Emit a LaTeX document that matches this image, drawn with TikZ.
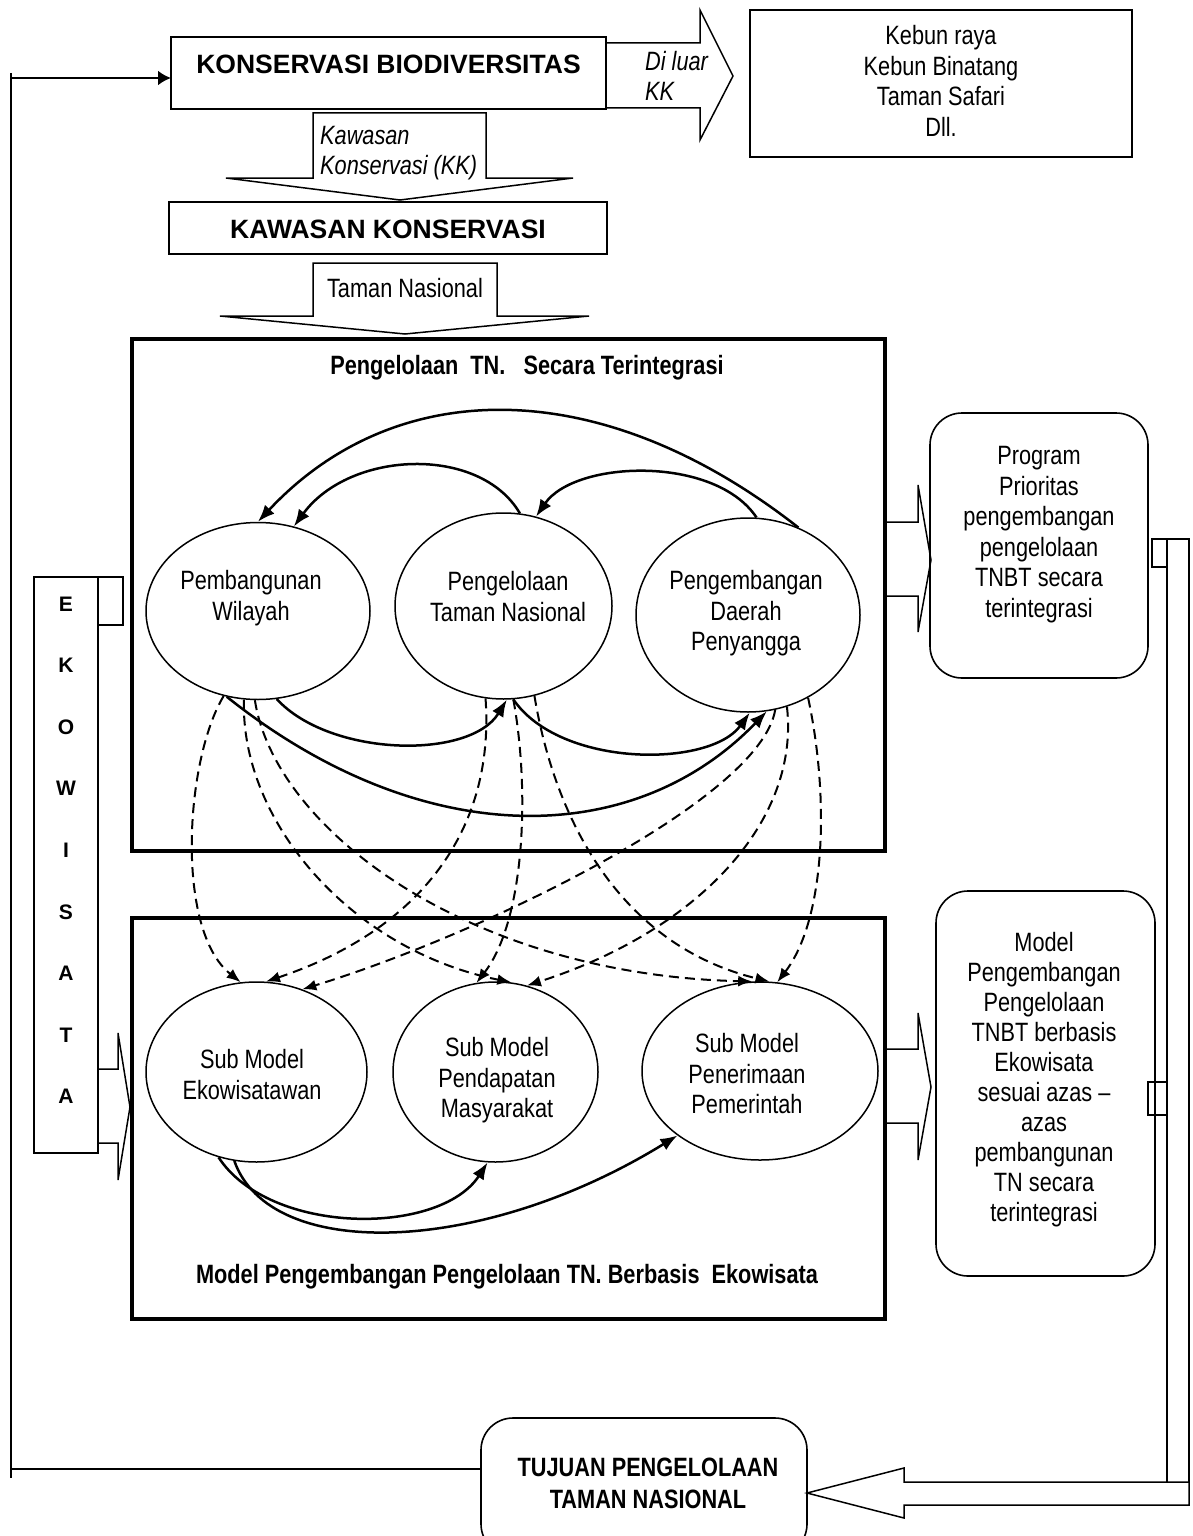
\documentclass[tikz,border=0pt]{standalone}
\usepackage{fontspec}
\setmainfont{Liberation Sans}
\newfontfamily\narrowsans{Liberation Sans}[FakeStretch=0.82]
\usetikzlibrary{arrows.meta,shapes.geometric}

\tikzset{
  plainbox/.style={draw, line width=1.6pt, inner sep=0pt, outer sep=0pt},
  roundbox/.style={plainbox, rounded corners=32pt},
  frame/.style={draw, line width=3.5pt, inner sep=0pt},
  oval/.style={draw, ellipse, line width=1.5pt, inner sep=0pt},
  hollow/.style={draw, line width=1.5pt, line join=miter},
  boldwide/.style={font=\bfseries\fontsize{26.5}{31}\selectfont},
  txtc/.style={font=\narrowsans\fontsize{26.5}{30.5}\selectfont, align=center, inner sep=0pt},
  txtl/.style={font=\narrowsans\itshape\fontsize{26.5}{30.5}\selectfont, align=left, inner sep=0pt},
  titletxt/.style={font=\narrowsans\bfseries\fontsize{26.5}{32}\selectfont, align=center, inner sep=0pt},
  link/.style={line width=2.5pt},
  arc/.style={line width=2.5pt, -{Latex[length=17pt,width=13pt]}},
  dashline/.style={line width=2pt, dash pattern=on 10pt off 6pt, -{Latex[length=14pt,width=11pt]}},
}

\begin{document}
\begin{tikzpicture}[x=1pt,y=-1pt]
\useasboundingbox (0,0) rectangle (1193,1536);
\fill[white] (0,0) rectangle (1193,1536);
\clip (0,0) rectangle (1193,1536);

% ---------- top chain ----------
\node[plainbox, boldwide, minimum width=435pt, text height=37pt, text depth=35pt, anchor=north west] (kb) at (171,37) {KONSERVASI BIODIVERSITAS};
\node[plainbox, minimum width=382pt, minimum height=147pt, anchor=north west] (kebun) at (750,10) {};
\node[txtc, anchor=north] (kebuntxt) at (941,25.3) {Kebun raya\\Kebun Binatang\\Taman Safari\\Dll.};

% outside-KK arrow
\draw[hollow] (606,43) -- (700,43) -- (700,10) -- (733,76) -- (700,140) -- (700,108) -- (606,108);
\node[txtl, anchor=north west] (diluar) at (645,51) {Di luar\\KK};

% arrow down to conservation areas
\draw[hollow] (313,113) -- (486,113) -- (486,178) -- (573,178) -- (400,200) -- (226,178) -- (313,178) -- cycle;
\node[txtl, anchor=north west] (kklabel) at (320,126) {Kawasan\\Konservasi (KK)};

\node[plainbox, boldwide, minimum width=438pt, text height=36.5pt, text depth=15.5pt, anchor=north west] (kk) at (169,202) {KAWASAN KONSERVASI};

% arrow down to national park
\draw[hollow] (313,263) -- (497,263) -- (497,316) -- (589,316) -- (405,334) -- (220,316) -- (313,316) -- cycle;
\node[txtc, anchor=base] (tnlabel) at (405,297.5) {Taman Nasional};

% ---------- frames ----------
\node[frame, minimum width=753pt, minimum height=512pt, anchor=north west] (f1) at (130,337) {};
\node[titletxt, anchor=base] (f1title) at (527,374.5) {Pengelolaan\ \ TN.\ \ \ Secara Terintegrasi};

\node[frame, minimum width=753pt, minimum height=401pt, anchor=north west] (f2) at (130,916) {};
\node[titletxt, anchor=base] (f2title) at (507,1283.5) {Model Pengembangan Pengelolaan TN. Berbasis\ \ Ekowisata};

% ---------- upper ellipses ----------
\node[oval, minimum width=224pt, minimum height=177pt] (pw) at (258,611) {};
\node[oval, minimum width=217pt, minimum height=186pt] (ptn) at (503.5,606) {};
\node[oval, minimum width=224pt, minimum height=194pt] (pdp) at (748,615) {};
\node[txtc, anchor=north] (pwtxt) at (251,570.3) {Pembangunan\\Wilayah};
\node[txtc, anchor=north] (ptntxt) at (508,571.3) {Pengelolaan\\Taman Nasional};
\node[txtc, anchor=north] (pdptxt) at (746,570.3) {Pengembangan\\Daerah\\Penyangga};

% ---------- lower ellipses ----------
\node[oval, minimum width=221pt, minimum height=180pt] (eko) at (256.5,1072) {};
\node[oval, minimum width=205pt, minimum height=180pt] (pend) at (495.5,1072) {};
\node[oval, minimum width=236pt, minimum height=178pt] (pen) at (760,1071) {};
\node[txtc, anchor=north] (ekotxt) at (252,1049.3) {Sub Model\\Ekowisatawan};
\node[txtc, anchor=north] (pendtxt) at (497,1037.3) {Sub Model\\Pendapatan\\Masyarakat};
\node[txtc, anchor=north] (pentxt) at (747,1033.3) {Sub Model\\Penerimaan\\Pemerintah};

% ---------- solid links between upper ellipses ----------
\draw[arc] (pdp.60) .. controls (600,372) and (395,375) .. (pw.90);
\draw[arc] (ptn.80) .. controls (480,445) and (350,450) .. (pw.67);
\draw[arc] (pdp.85) .. controls (715,455) and (575,460) .. (ptn.70);
\draw[arc] (pw.-78) .. controls (330,757) and (470,760) .. (ptn.-88);
\draw[arc] (ptn.-84) .. controls (560,768) and (710,768) .. (pdp.-89);
\draw[arc] (pw.-110) .. controls (420,851) and (632,851) .. (pdp.-79);

% ---------- dashed influences, upper to lower ----------
\draw[dashline] (pw.-112) .. controls (185,760) and (175,930) .. (eko.100);
\draw[dashline] (pw.-99) .. controls (240,820) and (350,950) .. (pend.80);
\draw[dashline] (pw.-92) .. controls (275,830) and (470,975) .. (pen.95);
\draw[dashline] (ptn.-101) .. controls (495,830) and (420,930) .. (eko.84);
\draw[dashline] (ptn.-84) .. controls (530,790) and (525,920) .. (pend.102);
\draw[dashline] (ptn.-71) .. controls (555,820) and (620,945) .. (pen.84);
\draw[dashline] (pdp.-74) .. controls (760,800) and (480,935) .. (eko.61);
\draw[dashline] (pdp.-67) .. controls (800,820) and (700,930) .. (pend.70);
\draw[dashline] (pdp.-54) .. controls (830,800) and (825,920) .. (pen.79);

% ---------- solid links between lower ellipses ----------
\draw[arc] (eko.-114) .. controls (270,1236) and (440,1236) .. (pend.-95);
\draw[arc] (eko.-104) .. controls (270,1262) and (482,1256) .. (pen.-142);

% ---------- right column ----------
\draw[hollow] (883,522) -- (918,522) -- (918,485) -- (931,560) -- (918,632) -- (918,596) -- (883,596);
\node[roundbox, minimum width=218pt, minimum height=265pt, anchor=north west] (prog) at (930,413) {};
\node[txtc, anchor=north] (progtxt) at (1039,446.3) {Program\\Prioritas\\pengembangan\\pengelolaan\\TNBT secara\\terintegrasi};

\draw[hollow] (883,1049) -- (918,1049) -- (918,1013) -- (931,1087) -- (918,1160) -- (918,1123) -- (883,1123);
\node[roundbox, minimum width=219pt, minimum height=385pt, anchor=north west] (model) at (936,891) {};
\node[txtc, font=\narrowsans\fontsize{26.5}{30}\selectfont, anchor=north] (modeltxt) at (1044,932.3) {Model\\Pengembangan\\Pengelolaan\\TNBT berbasis\\Ekowisata\\sesuai azas –\\azas\\pembangunan\\TN secara\\terintegrasi};

% return channel down the right side and into the goal box
\draw[hollow] (1152,539) rectangle (1167,567);
\draw[hollow] (1148,1082) rectangle (1167,1115);
\draw[hollow] (1167,1482) -- (1167,539) -- (1189,539) -- (1189,1482);
\draw[hollow] (1189,1482) -- (904,1482) -- (904,1468) -- (807,1493) -- (904,1518) -- (904,1505) -- (1189,1505) -- cycle;

\node[roundbox, minimum width=326pt, minimum height=138pt, anchor=north west] (tujuan) at (481,1418) {};
\node[titletxt, anchor=north] (tujuantxt) at (648,1457.3) {TUJUAN PENGELOLAAN\\TAMAN NASIONAL};

% ---------- left column ----------
\node[plainbox, minimum width=64pt, minimum height=576pt, anchor=north west] (eks) at (34,577) {};
\draw[hollow] (98,577) rectangle (123,625);
\node[font=\bfseries\fontsize{21}{61.6}\selectfont, align=center, inner sep=0pt, anchor=north] (ekstxt) at (66,596.5) {E\\K\\O\\W\\I\\S\\A\\T\\A};
\draw[hollow] (98,1069) -- (118,1069) -- (118,1033) -- (130,1107) -- (118,1180) -- (118,1143) -- (98,1143);

% feedback loop from the goal back to biodiversity conservation
\coordinate (loopbot) at (11,1478);
\coordinate (looptop) at (11,73);
\coordinate (lowturn) at (11,1469);
\coordinate (topturn) at (11,78);
\draw[link] (looptop) -- (loopbot);
\draw[link] (lowturn) -- (tujuan.west |- lowturn);
\draw[link, -{Latex[length=13pt,width=15pt]}] (topturn) -- (kb.west |- topturn);
\end{tikzpicture}
\end{document}
